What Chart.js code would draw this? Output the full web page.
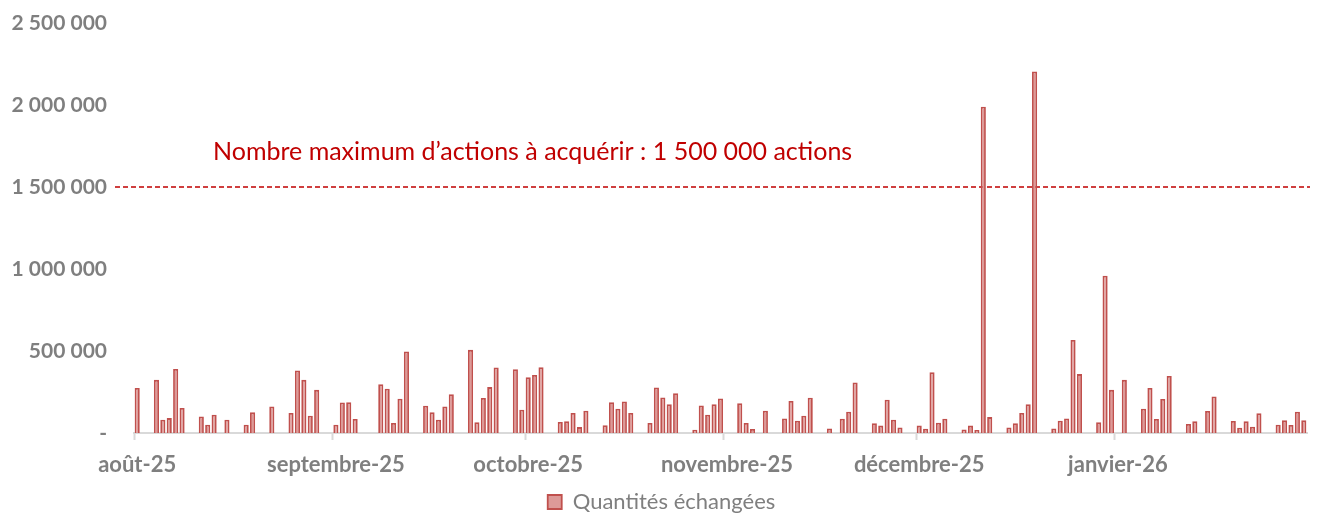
<!DOCTYPE html>
<html lang="fr">
<head>
<meta charset="utf-8">
<title>Quantités échangées</title>
<script src="https://cdn.jsdelivr.net/npm/chart.js@4/dist/chart.umd.min.js"></script>
<style>
  html, body { margin: 0; padding: 0; background: #fff; }
  #wrap { width: 1335px; height: 513px; }
</style>
</head>
<body>
<div id="wrap"><canvas id="myChart"></canvas></div>
<script>
// one value per calendar day, null = no trading shown
const aout = [
  274000, null, null,
  324000, 81000, 91000, 391000, 152000, null, null,
  101000, 51000, 111000, null, 81000, null, null,
  51000, 126000, null, null, 162000, null, null,
  122000, 381000, 324000, 105000, 263000, null, null,
];
const septembre = [
  51000, 186000, 188000, 85000, null, null, null,
  298000, 270000, 61000, 209000, 497000, null, null,
  166000, 126000, 81000, 162000, 237000, null, null,
  507000, 65000, 213000, 280000, 399000, null, null,
  389000, 142000,
];
const octobre = [
  340000, 354000, 401000, null, null,
  67000, 71000, 122000, 36000, 136000, null, null,
  47000, 188000, 148000, 192000, 122000, null, null,
  61000, 278000, 217000, 176000, 243000, null, null,
  20000, 168000, 111000, 176000, 211000,
];
const novembre = [
  null, null,
  182000, 61000, 24000, null, 136000, null, null,
  89000, 195000, 75000, 105000, 215000, null, null,
  28000, null, 87000, 130000, 308000, null, null,
  59000, 45000, 203000, 81000, 34000, null, null,
];
const decembre = [
  45000, 26000, 371000, 63000, 87000, null, null,
  22000, 45000, 18000, 1990000, 97000, null, null,
  34000, 59000, 122000, 176000, 2205000, null, null,
  28000, 75000, 89000, 567000, 359000, null, null,
  65000, 959000, 263000,
];
const janvier = [
  null, 324000, null, null,
  148000, 274000, 85000, 207000, 348000, null, null,
  55000, 71000, null, 134000, 223000, null, null,
  73000, 32000, 71000, 38000, 120000, null, null,
  51000, 77000, 49000, 130000, 77000,
];

const monthLabels = ["août-25", "septembre-25", "octobre-25", "novembre-25", "décembre-25", "janvier-26"];
const monthValues = [aout, septembre, octobre, novembre, decembre, janvier];
const yTicks = [0, 500000, 1000000, 1500000, 2000000, 2500000];

const seuil = 1500000;
const seuilTexte = "Nombre maximum d’actions à acquérir : 1 500 000 actions";

// build the day categories
const labels = [];
const volumes = [];
const monthStart = new Set();
monthValues.forEach((vals, m) => {
  monthStart.add(labels.length);
  vals.forEach((v, d) => {
    labels.push(d === 0 ? monthLabels[m] : "");
    volumes.push(v);
  });
});

const fmt = (v) => (v === 0 ? "-" : String(v).replace(/\B(?=(\d{3})+(?!\d))/g, " "));

const grey = "#7f7f7f";
const red = "#c00000";

const seuilPlugin = {
  id: "seuil",
  afterLayout(chart) {
    // legend sits a little right of centre in the original
    chart.legend.left += 8;
    chart.legend.right += 8;
  },
  beforeDatasetsDraw(chart) {
    const { ctx, chartArea, scales } = chart;
    const yPos = scales.y.getPixelForValue(seuil);
    ctx.save();
    ctx.strokeStyle = red;
    ctx.lineWidth = 1.6;
    ctx.setLineDash([5, 3]);
    ctx.beginPath();
    ctx.moveTo(chartArea.left - 19, yPos);
    ctx.lineTo(chartArea.right + 3, yPos);
    ctx.stroke();
    ctx.setLineDash([]);
    ctx.fillStyle = red;
    ctx.font = "25px Lato";
    ctx.textBaseline = "alphabetic";
    ctx.fillText(seuilTexte, chartArea.left + 79, yPos - 27);
    ctx.restore();
  },
};

const ctx = document.getElementById("myChart");
const myChart = new Chart(ctx, {
  type: "bar",
  data: {
    labels: labels,
    datasets: [
      {
        label: "Quantités échangées",
        data: volumes,
        backgroundColor: "#dd9a98",
        borderColor: "#c0504d",
        borderWidth: 1.8,
        barPercentage: 0.8,
        categoryPercentage: 1,
      },
    ],
  },
  options: {
    responsive: true,
    maintainAspectRatio: false,
    animation: false,
    layout: { padding: { top: 23, right: 28, left: 0, bottom: -10 } },
    plugins: {
      tooltip: { enabled: false },
      legend: {
        position: "bottom",
        labels: {
          color: grey,
          font: { family: "Lato", size: 22 },
          boxWidth: 14,
          boxHeight: 14,
          padding: 6,
        },
      },
    },
    scales: {
      x: {
        afterFit: (s) => { s.height = 52; },
        border: { display: true, color: "#d9d9d9", width: 2 },
        grid: {
          drawOnChartArea: false,
          drawTicks: true,
          tickLength: 7,
          tickWidth: 2,
          color: "rgba(0,0,0,0)",
          tickColor: (c) => (monthStart.has(c.index) ? "#d9d9d9" : "rgba(0,0,0,0)"),
        },
        ticks: {
          autoSkip: false,
          maxRotation: 0,
          padding: 12,
          color: grey,
          font: { family: "Lato", size: 22, weight: "bold" },
          callback: (v, i) => labels[i],
        },
      },
      y: {
        min: 0,
        max: 2500000,
        afterFit: (s) => {
          s.width = 134;
          s.paddingTop = 0;
          s.paddingBottom = 0;
        },
        afterBuildTicks: (s) => { s.ticks = yTicks.map((v) => ({ value: v })); },
        border: { display: false },
        grid: { display: false, drawTicks: false },
        ticks: {
          padding: 27,
          color: grey,
          font: { family: "Lato", size: 21, weight: "bold" },
          callback: (v) => fmt(v),
        },
      },
    },
  },
  plugins: [seuilPlugin],
});
</script>
</body>
</html>
